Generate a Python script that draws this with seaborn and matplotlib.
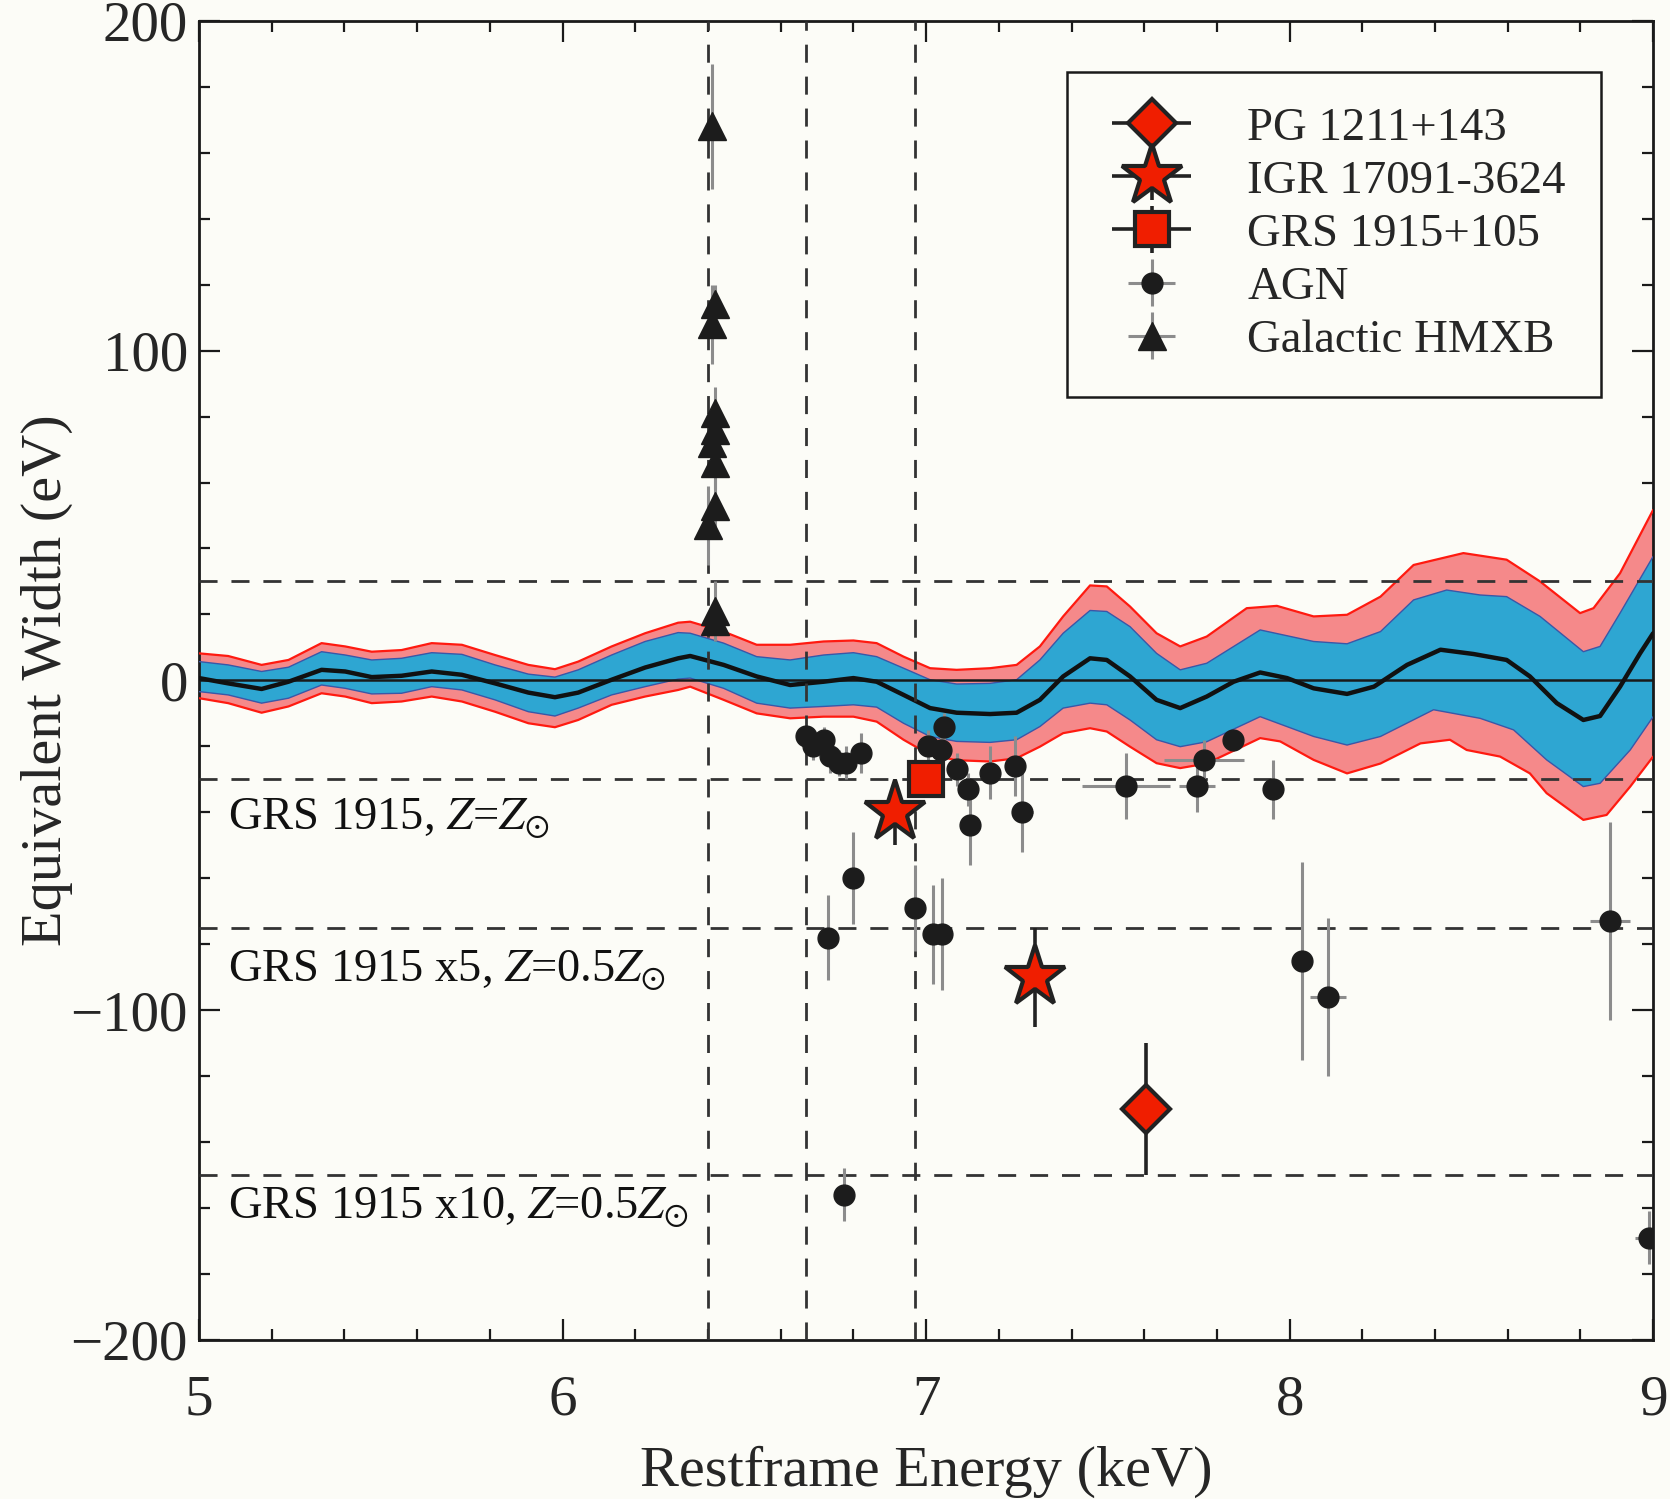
import numpy as np
import pandas as pd
import matplotlib
matplotlib.use("Agg")
import matplotlib.pyplot as plt
from matplotlib.ticker import MultipleLocator
from matplotlib.legend_handler import HandlerErrorbar
import seaborn as sns

# ---------------------------------------------------------------- model envelope
# shared energies for the 5.0-7.63 keV part of every curve
grid_low = [5.000, 5.080, 5.172, 5.246, 5.337, 5.402, 5.475, 5.557, 5.640,
            5.723, 5.814, 5.906, 5.979, 6.043, 6.135, 6.227, 6.318, 6.351,
            6.443, 6.534, 6.626, 6.718, 6.800, 6.864, 6.938, 7.011, 7.084,
            7.176, 7.249, 7.313, 7.377, 7.451, 7.497, 7.561, 7.634]

center_low = [0.7, -0.9, -2.6, -0.4, 3.2, 2.7, 1.0, 1.4, 2.7, 1.7, -0.9, -3.7,
              -5.1, -3.7, 0.2, 3.9, 6.7, 7.4, 4.7, 1.2, -1.4, -0.4, 0.7, -0.4,
              -4.4, -8.4, -9.8, -10.2, -9.8, -5.9, 1.2, 6.7, 6.2, 1.2, -5.9]
outer_hi_low = [8.2, 7.4, 4.7, 6.2, 11.3, 10.3, 8.7, 9.2, 11.3, 10.8, 7.7, 4.7,
                3.4, 5.7, 10.3, 14.3, 17.5, 17.8, 14.8, 10.8, 10.8, 11.8, 12.1,
                11.3, 7.2, 3.7, 3.2, 3.7, 4.7, 10.3, 19.4, 28.8, 28.5, 22.4, 14.3]
inner_hi_low = [5.7, 4.7, 2.7, 4.0, 8.7, 7.7, 6.2, 6.7, 8.4, 7.9, 4.7, 1.9,
                1.0, 3.2, 7.7, 11.8, 14.5, 14.3, 11.3, 7.2, 6.2, 7.7, 8.4, 7.2,
                3.7, 0.2, -1.1, -0.9, 0.2, 6.2, 14.3, 21.2, 20.9, 16.3, 8.2]
inner_lo_low = [-3.4, -4.4, -6.9, -5.4, -1.4, -2.4, -4.1, -3.9, -1.9, -2.9, -5.9,
                -9.5, -10.8, -8.4, -4.4, -1.9, 0.4, 0.7, -2.4, -6.9, -8.4, -7.9,
                -7.4, -8.1, -13.0, -17.0, -18.5, -18.8, -18.0, -14.0, -8.4, -6.9,
                -7.4, -12.0, -18.0]
outer_lo_low = [-5.4, -6.9, -9.8, -7.9, -3.9, -4.9, -6.9, -6.4, -4.9, -6.4, -9.5,
                -13.0, -14.2, -12.0, -7.4, -4.9, -2.9, -1.9, -5.9, -10.0, -11.5,
                -11.0, -11.0, -12.5, -18.0, -22.6, -24.2, -24.6, -23.6, -20.1,
                -16.0, -14.5, -15.5, -20.1, -25.1]

# 7.7-9.0 keV part of each curve
center_hi_e = [7.699, 7.772, 7.846, 7.919, 7.993, 8.066, 8.158, 8.232, 8.323,
               8.415, 8.506, 8.597, 8.661, 8.735, 8.808, 8.854, 8.909, 8.964, 9.0]
center_hi_w = [-8.4, -4.9, -0.4, 2.4, 0.7, -2.4, -4.1, -1.9, 4.7,
               9.3, 8.0, 6.2, 1.2, -6.9, -12.0, -10.8, -1.9, 8.2, 14.3]
outer_hi_hi_e = [7.699, 7.772, 7.882, 7.965, 8.066, 8.158, 8.250, 8.341, 8.478,
                 8.597, 8.689, 8.799, 8.836, 8.909, 9.0]
outer_hi_hi_w = [10.3, 13.3, 21.9, 22.6, 19.4, 19.9, 25.4, 35.0, 38.6,
                 36.6, 30.0, 20.4, 21.9, 32.5, 51.7]
inner_hi_hi_e = [7.699, 7.772, 7.919, 8.066, 8.158, 8.250, 8.341, 8.432, 8.524,
                 8.597, 8.689, 8.808, 8.854, 8.909, 9.0]
inner_hi_hi_w = [3.2, 5.2, 15.3, 11.8, 11.1, 14.8, 24.4, 27.4, 25.9,
                 25.4, 19.4, 8.7, 10.3, 20.4, 37.6]
inner_lo_hi_e = [7.699, 7.772, 7.919, 8.066, 8.158, 8.250, 8.396, 8.524, 8.616,
                 8.707, 8.808, 8.854, 8.937, 9.0]
inner_lo_hi_w = [-20.1, -18.6, -11.0, -17.0, -19.6, -17.0, -8.9, -11.5, -15.0,
                 -24.1, -32.2, -31.2, -21.1, -11.0]
outer_lo_hi_e = [7.699, 7.772, 7.919, 7.974, 8.066, 8.158, 8.250, 8.360, 8.441,
                 8.487, 8.579, 8.661, 8.707, 8.808, 8.872, 8.937, 9.0]
outer_lo_hi_w = [-26.6, -25.2, -17.5, -18.5, -24.1, -28.2, -25.2, -19.1, -18.0,
                 -21.1, -23.1, -28.2, -34.2, -42.3, -40.8, -32.2, -23.1]

# ---------------------------------------------------------------- measurements
pg_x, pg_y, pg_yerr = [7.605], [-130.0], [20.0]
igr_x, igr_y, igr_yerr = [6.915, 7.30], [-40.0, -90.0], [10.0, 15.0]
grs_x, grs_y, grs_yerr = [7.00], [-30.0], [4.0]

agn_x = [6.67, 6.69, 6.72, 6.735, 6.76, 6.78, 6.82, 7.005, 7.05, 7.04, 7.085,
         7.115, 7.175, 7.245, 7.12, 7.265, 7.55, 7.745, 7.765, 7.845, 7.955,
         6.80, 6.97, 6.73, 7.02, 7.045, 8.033, 8.105, 8.88, 6.773, 8.99]
agn_y = [-17, -20, -18, -23, -25, -25, -22, -20, -14, -21, -27,
         -33, -28, -26, -44, -40, -32, -32, -24, -18, -33,
         -60, -69, -78, -77, -77, -85, -96, -73, -156, -169]
agn_xerr = [0.01, 0.01, 0.01, 0.01, 0.01, 0.01, 0.01, 0.01, 0.01, 0.01, 0.01,
            0.01, 0.01, 0.01, 0.01, 0.03, 0.12, 0.05, 0.11, 0.01, 0.01,
            0.01, 0.01, 0.01, 0.01, 0.02, 0.01, 0.05, 0.055, 0.01, 0.04]
agn_yerr = [3, 4, 4, 5, 4, 5, 6, 5, 4, 5, 5,
            5, 8, 9, 12, 12, 10, 8, 6, 3, 9,
            14, 13, 13, 15, 17, 30, 24, 30, 8, 8]

hmxb_x = [6.41, 6.42, 6.41, 6.42, 6.42, 6.41, 6.42, 6.42, 6.40, 6.42, 6.42]
hmxb_y = [168, 114, 108, 81, 76, 72, 66, 53, 47, 21, 18]
hmxb_yerr = [19, 6, 12, 8, 6, 6, 8, 8, 12, 9, 4]
hmxb_xerr = [0.01] * len(hmxb_x)

line_energies = [6.40, 6.67, 6.97]
threshold_levels = [30, -30, -75, -150]
threshold_labels = [r"GRS 1915, $Z$=$Z_{\odot}$",
                    r"GRS 1915 x5, $Z$=0.5$Z_{\odot}$",
                    r"GRS 1915 x10, $Z$=0.5$Z_{\odot}$"]
threshold_label_y = [-42, -88, -160]

# ---------------------------------------------------------------- style
sns.set_theme(style="ticks")
plt.rcParams["font.family"] = ["Liberation Serif", "DejaVu Serif"]
plt.rcParams["mathtext.fontset"] = "stix"
bg = "#fcfcf7"

fig = plt.figure(figsize=(16.70, 14.99), dpi=100, facecolor=bg)
ax = fig.add_axes([0.1192, 0.1061, 0.8707, 0.8800], facecolor=bg)


def curve(low_vals, hi_e, hi_w):
    return pd.DataFrame({"energy": grid_low + hi_e, "ew": low_vals + hi_w})


center = curve(center_low, center_hi_e, center_hi_w)
outer_hi = curve(outer_hi_low, outer_hi_hi_e, outer_hi_hi_w)
outer_lo = curve(outer_lo_low, outer_lo_hi_e, outer_lo_hi_w)
inner_hi = curve(inner_hi_low, inner_hi_hi_e, inner_hi_hi_w)
inner_lo = curve(inner_lo_low, inner_lo_hi_e, inner_lo_hi_w)

pink, blue = "#f5898a", "#2ea6d2"


def band(hi, lo, color, z):
    xs = np.r_[hi["energy"].to_numpy(), lo["energy"].to_numpy()[::-1]]
    ys = np.r_[hi["ew"].to_numpy(), lo["ew"].to_numpy()[::-1]]
    ax.fill(xs, ys, color=color, lw=0, zorder=z)


band(outer_hi, outer_lo, pink, 1)
band(inner_hi, inner_lo, blue, 2)
for df in (outer_hi, outer_lo):
    sns.lineplot(data=df, x="energy", y="ew", ax=ax, color="#ff1a10",
                 lw=1.6, zorder=3, legend=False)
for df in (inner_hi, inner_lo):
    sns.lineplot(data=df, x="energy", y="ew", ax=ax, color="#3a57a8",
                 lw=1.0, zorder=3, legend=False)
ax.axhline(0, color="#1a1a1a", lw=1.8, zorder=4)
sns.lineplot(data=center, x="energy", y="ew", ax=ax, color="#111111",
             lw=3.2, zorder=5, legend=False)

dash = (0, (6.5, 5))
for e in line_energies:
    ax.axvline(e, color="#333333", lw=2.0, ls=dash, zorder=6)
for lvl in threshold_levels:
    ax.axhline(lvl, color="#333333", lw=2.0, ls=dash, zorder=6)
for txt, ty in zip(threshold_labels, threshold_label_y):
    ax.text(5.08, ty, txt, fontsize=33.5, ha="left", va="center",
            color="#111111", zorder=7)

red = "#f01e00"
edge = "#222222"
gray = "#8c8c8c"
h_pg = ax.errorbar(pg_x, pg_y, yerr=pg_yerr, xerr=[0.0], fmt="D", ms=24,
                   mfc=red, mec=edge, mew=3, ecolor=edge, elinewidth=2.6,
                   zorder=12, label="PG 1211+143")
h_igr = ax.errorbar(igr_x, igr_y, yerr=igr_yerr, xerr=[0.0, 0.0], fmt="*",
                    ms=46, mfc=red, mec=edge, mew=3, ecolor=edge,
                    elinewidth=2.6, zorder=12, label="IGR 17091-3624")
h_grs = ax.errorbar(grs_x, grs_y, yerr=grs_yerr, xerr=[0.0], fmt="s", ms=25,
                    mfc=red, mec=edge, mew=3, ecolor=edge, elinewidth=2.6,
                    zorder=12, label="GRS 1915+105")
h_agn = ax.errorbar(agn_x, agn_y, yerr=agn_yerr, xerr=agn_xerr, fmt="o",
                    ms=15, mfc="#1c1c1c", mec="#1c1c1c", ecolor=gray,
                    elinewidth=2.2, zorder=10, label="AGN")
h_hm = ax.errorbar(hmxb_x, hmxb_y, yerr=hmxb_yerr, xerr=hmxb_xerr, fmt="^",
                   ms=20, mfc="#1c1c1c", mec="#1c1c1c", ecolor=gray,
                   elinewidth=2.2, zorder=10, label="Galactic HMXB")

ax.set_xlim(5, 9)
ax.set_ylim(-200, 200)
ax.xaxis.set_major_locator(MultipleLocator(1))
ax.xaxis.set_minor_locator(MultipleLocator(0.2))
ax.yaxis.set_major_locator(MultipleLocator(100))
ax.yaxis.set_minor_locator(MultipleLocator(20))
ax.tick_params(which="both", direction="in", top=True, right=True,
               color="#1a1a1a", width=1.6)
ax.tick_params(which="major", length=15, labelsize=41)
ax.tick_params(which="minor", length=8)
ax.tick_params(axis="x", pad=25)
ax.tick_params(axis="y", pad=8)
for sp in ax.spines.values():
    sp.set_linewidth(2.0)
    sp.set_color("#1a1a1a")

ax.set_xlabel("Restframe Energy (keV)", fontsize=42)
ax.set_ylabel("Equivalent Width (eV)", fontsize=42)
ax.xaxis.set_label_coords(0.5, -0.080)
ax.yaxis.set_label_coords(-0.087, 0.5)

big = HandlerErrorbar(xerr_size=0.85, yerr_size=0.5)
small = HandlerErrorbar(xerr_size=0.5, yerr_size=0.5)
leg = ax.legend(handles=[h_pg, h_igr, h_grs, h_agn, h_hm],
                handler_map={h_pg: big, h_igr: big, h_grs: big,
                             h_agn: small, h_hm: small},
                loc="upper right", bbox_to_anchor=(0.9642, 0.9613),
                fontsize=33.7, frameon=True, fancybox=False, framealpha=1,
                edgecolor="#1a1a1a", facecolor=bg, handlelength=2.1,
                handletextpad=1.0, labelspacing=0.22, borderpad=0.75,
                borderaxespad=0)
leg.get_frame().set_linewidth(1.8)
leg.set_zorder(20)

fig.savefig("out.png", dpi=100, facecolor=bg)
